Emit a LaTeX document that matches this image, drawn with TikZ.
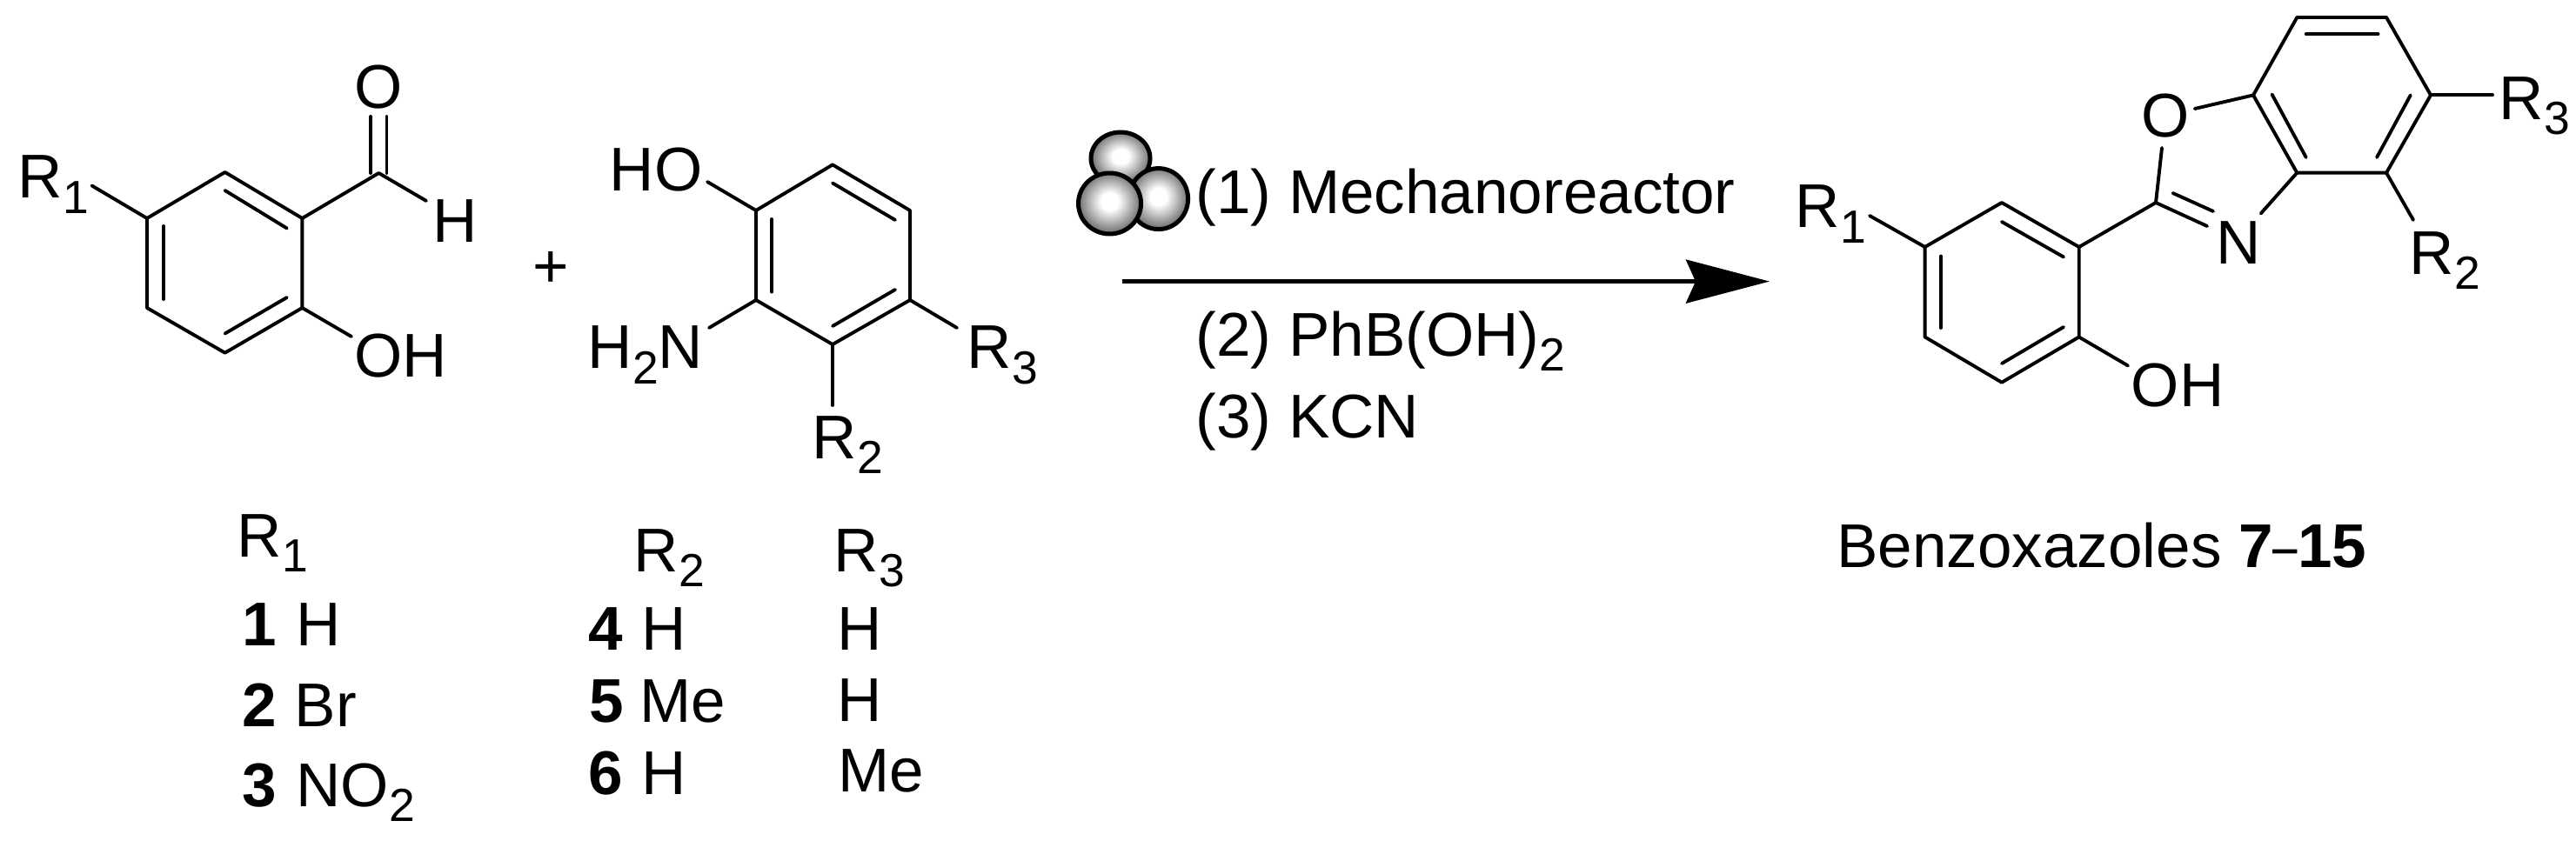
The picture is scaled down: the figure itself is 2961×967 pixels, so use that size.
\documentclass[tikz,border=0pt]{standalone}
\usepackage{fontspec}
\setmainfont{Liberation Sans}
\usetikzlibrary{arrows.meta}
\pgfdeclareradialshading{ballshade}{\pgfpoint{0bp}{2bp}}{color(0bp)=(white); color(7bp)=(white); color(27bp)=(black!62); color(50bp)=(black!62)}
\newcommand{\low}[1]{\raisebox{-0.24em}{\fontsize{15.2pt}{15.2pt}\selectfont #1}}

\begin{document}
\begin{tikzpicture}[x=0.01cm,y=-0.01cm,
	bond/.style={line width=0.039cm,line cap=round,line join=round},
	atom/.style={anchor=base west,inner sep=0pt,xshift=-0.04cm,font=\fontsize{20.2pt}{24pt}\selectfont},
	ball/.style={shading=ballshade,draw=black,line width=0.05cm}]
	\useasboundingbox (0,0) rectangle (2961,967);

	% aldehyde
	\coordinate (a1) at (258.6,198);
	\coordinate (a2) at (347.4,251);
	\coordinate (a3) at (347.4,354);
	\coordinate (a4) at (258.6,405.7);
	\coordinate (a5) at (169,354);
	\coordinate (a6) at (169,251);
	\coordinate (ac) at (435.4,199);
	\coordinate (ao1) at (426,134);
	\coordinate (ao2) at (444.5,134);
	\coordinate (ac1) at (426,199);
	\coordinate (ac2) at (444.5,199);
	\coordinate (ah) at (490,231);
	\coordinate (ar) at (105.6,213.5);
	\coordinate (aoh) at (404,387);
	\coordinate (ai1) at (258.6,219);
	\coordinate (ai2) at (329.8,262.5);
	\coordinate (ai3) at (188,260);
	\coordinate (ai4) at (188,344);
	\coordinate (ai5) at (258.6,383.5);
	\coordinate (ai6) at (329.8,342);

	\draw[bond] (a1)--(a2)--(a3)--(a4)--(a5)--(a6)--cycle;
	\draw[bond] (ai1)--(ai2);
	\draw[bond] (ai3)--(ai4);
	\draw[bond] (ai5)--(ai6);
	\draw[bond] (a2)--(ac)--(ah);
	\draw[bond] (ac1)--(ao1);
	\draw[bond] (ac2)--(ao2);
	\draw[bond] (a6)--(ar);
	\draw[bond] (a3)--(aoh);

	\node[atom] (aR) at (24,228) {R\low{1}};
	\node[atom] (aO) at (411,125) {O};
	\node[atom] (aH) at (501,279) {H};
	\node[atom] (aOH) at (411,433) {OH};

	\node[atom] (plus) at (616,331) {+};

	% aminophenol
	\coordinate (b1) at (957,189.4);
	\coordinate (b2) at (1046,242);
	\coordinate (b3) at (1046,345);
	\coordinate (b4) at (957,396);
	\coordinate (b5) at (869,345);
	\coordinate (b6) at (869,242);
	\coordinate (boh) at (813,209);
	\coordinate (bn) at (815,377);
	\coordinate (br3) at (1100,377);
	\coordinate (br2) at (957,466);
	\coordinate (bi1) at (957,210.5);
	\coordinate (bi2) at (1029,253);
	\coordinate (bi3) at (887,252);
	\coordinate (bi4) at (887,335.6);
	\coordinate (bi5) at (957,375);
	\coordinate (bi6) at (1029,333);

	\draw[bond] (b1)--(b2)--(b3)--(b4)--(b5)--(b6)--cycle;
	\draw[bond] (bi1)--(bi2);
	\draw[bond] (bi3)--(bi4);
	\draw[bond] (bi5)--(bi6);
	\draw[bond] (b6)--(boh);
	\draw[bond] (b5)--(bn);
	\draw[bond] (b3)--(br3);
	\draw[bond] (b4)--(br2);

	\node[atom] (bHO) at (704,220) {HO};
	\node[atom] (bNH) at (679,424) {H\low{2}N};
	\node[atom] (bR3) at (1115,424) {R\low{3}};
	\node[atom] (bR2) at (937,527) {R\low{2}};

	% milling balls and reagents
	\shade[ball] (1288,182) ellipse [x radius=34,y radius=30];
	\shade[ball] (1331.6,228.6) ellipse [x radius=34,y radius=35];
	\shade[ball] (1275.5,234) ellipse [x radius=36,y radius=35];

	\node[atom] (step1) at (1378,246) {(1) Mechanoreactor};
	\node[atom] (step2) at (1378,409.6) {(2) PhB(OH)\low{2}};
	\node[atom] (step3) at (1378,503) {(3) KCN};

	\coordinate (from) at (1290,323.6);
	\coordinate (to) at (2034,323.6);
	\draw[line width=0.042cm,-{Stealth[length=0.96cm,width=0.5cm,inset=0.11cm]}] (from)--(to);

	% benzoxazole
	\coordinate (p1) at (2300.9,233);
	\coordinate (p2) at (2389.7,284);
	\coordinate (p3) at (2389.7,387.5);
	\coordinate (p4) at (2300.9,439.7);
	\coordinate (p5) at (2212.6,387.5);
	\coordinate (p6) at (2212.6,284);
	\coordinate (pr) at (2149,248);
	\coordinate (poh) at (2446,420.5);
	\coordinate (pi1) at (2300.9,255);
	\coordinate (pi2) at (2372,295.5);
	\coordinate (pi3) at (2231,294.6);
	\coordinate (pi4) at (2231,377);
	\coordinate (pi5) at (2300.9,418);
	\coordinate (pi6) at (2372,376);

	\coordinate (c2) at (2478,233);
	\coordinate (co1) at (2485,170);
	\coordinate (co2) at (2522.7,125);
	\coordinate (cn1) at (2537,260);
	\coordinate (cn2) at (2598.7,245.5);
	\coordinate (ci1) at (2497.5,222);
	\coordinate (ci2) at (2544,243);

	\coordinate (q1) at (2590,109.4);
	\coordinate (q2) at (2640.3,198.7);
	\coordinate (q3) at (2743,198.7);
	\coordinate (q4) at (2794,109.4);
	\coordinate (q5) at (2743,20);
	\coordinate (q6) at (2640.3,20);
	\coordinate (qr3) at (2865,109.4);
	\coordinate (qr2) at (2774,253);
	\coordinate (qi1) at (2611.5,108.5);
	\coordinate (qi2) at (2650.7,181);
	\coordinate (qi3) at (2650.7,39.3);
	\coordinate (qi4) at (2733.5,39.3);
	\coordinate (qi5) at (2770.8,109.4);
	\coordinate (qi6) at (2732,181);

	\draw[bond] (p1)--(p2)--(p3)--(p4)--(p5)--(p6)--cycle;
	\draw[bond] (pi1)--(pi2);
	\draw[bond] (pi3)--(pi4);
	\draw[bond] (pi5)--(pi6);
	\draw[bond] (p6)--(pr);
	\draw[bond] (p3)--(poh);
	\draw[bond] (p2)--(c2)--(co1);
	\draw[bond] (c2)--(cn1);
	\draw[bond] (ci1)--(ci2);
	\draw[bond] (co2)--(q1);
	\draw[bond] (cn2)--(q2);
	\draw[bond] (q1)--(q2)--(q3)--(q4)--(q5)--(q6)--cycle;
	\draw[bond] (qi1)--(qi2);
	\draw[bond] (qi3)--(qi4);
	\draw[bond] (qi5)--(qi6);
	\draw[bond] (q4)--(qr3);
	\draw[bond] (q3)--(qr2);

	\node[atom] (pR) at (2067,262) {R\low{1}};
	\node[atom] (pOH) at (2453,467) {OH};
	\node[atom] (pO) at (2465,158) {O};
	\node[atom] (pN) at (2551,303.6) {N};
	\node[atom] (qR3) at (2876,137.5) {R\low{3}};
	\node[atom] (qR2) at (2773,315.6) {R\low{2}};

	\node[atom] (name) at (2114.6,652.7) {Benzoxazoles \textbf{7}\scalebox{.72}[1]{–}\textbf{15}};

	% substituent tables
	\node[atom] (tR1) at (276,640) {R\low{1}};
	\node[atom] (t1) at (282,742.7) {\textbf{1}};
	\node[atom] (t1a) at (344,742.7) {H};
	\node[atom] (t2) at (282,835) {\textbf{2}};
	\node[atom] (t2a) at (342,835) {Br};
	\node[atom] (t3) at (282,927.7) {\textbf{3}};
	\node[atom] (t3a) at (344,927.7) {NO\low{2}};

	\node[atom] (tR2) at (732,657.7) {R\low{2}};
	\node[atom] (tR3) at (962,657.7) {R\low{3}};
	\node[atom] (t4) at (680,747) {\textbf{4}};
	\node[atom] (t4a) at (741,747) {H};
	\node[atom] (t4b) at (966,747) {H};
	\node[atom] (t5) at (681,830.7) {\textbf{5}};
	\node[atom] (t5a) at (739,830.7) {Me};
	\node[atom] (t5b) at (966,829) {H};
	\node[atom] (t6) at (680,913) {\textbf{6}};
	\node[atom] (t6a) at (741,913) {H};
	\node[atom] (t6b) at (966.6,910) {Me};
\end{tikzpicture}
\end{document}
